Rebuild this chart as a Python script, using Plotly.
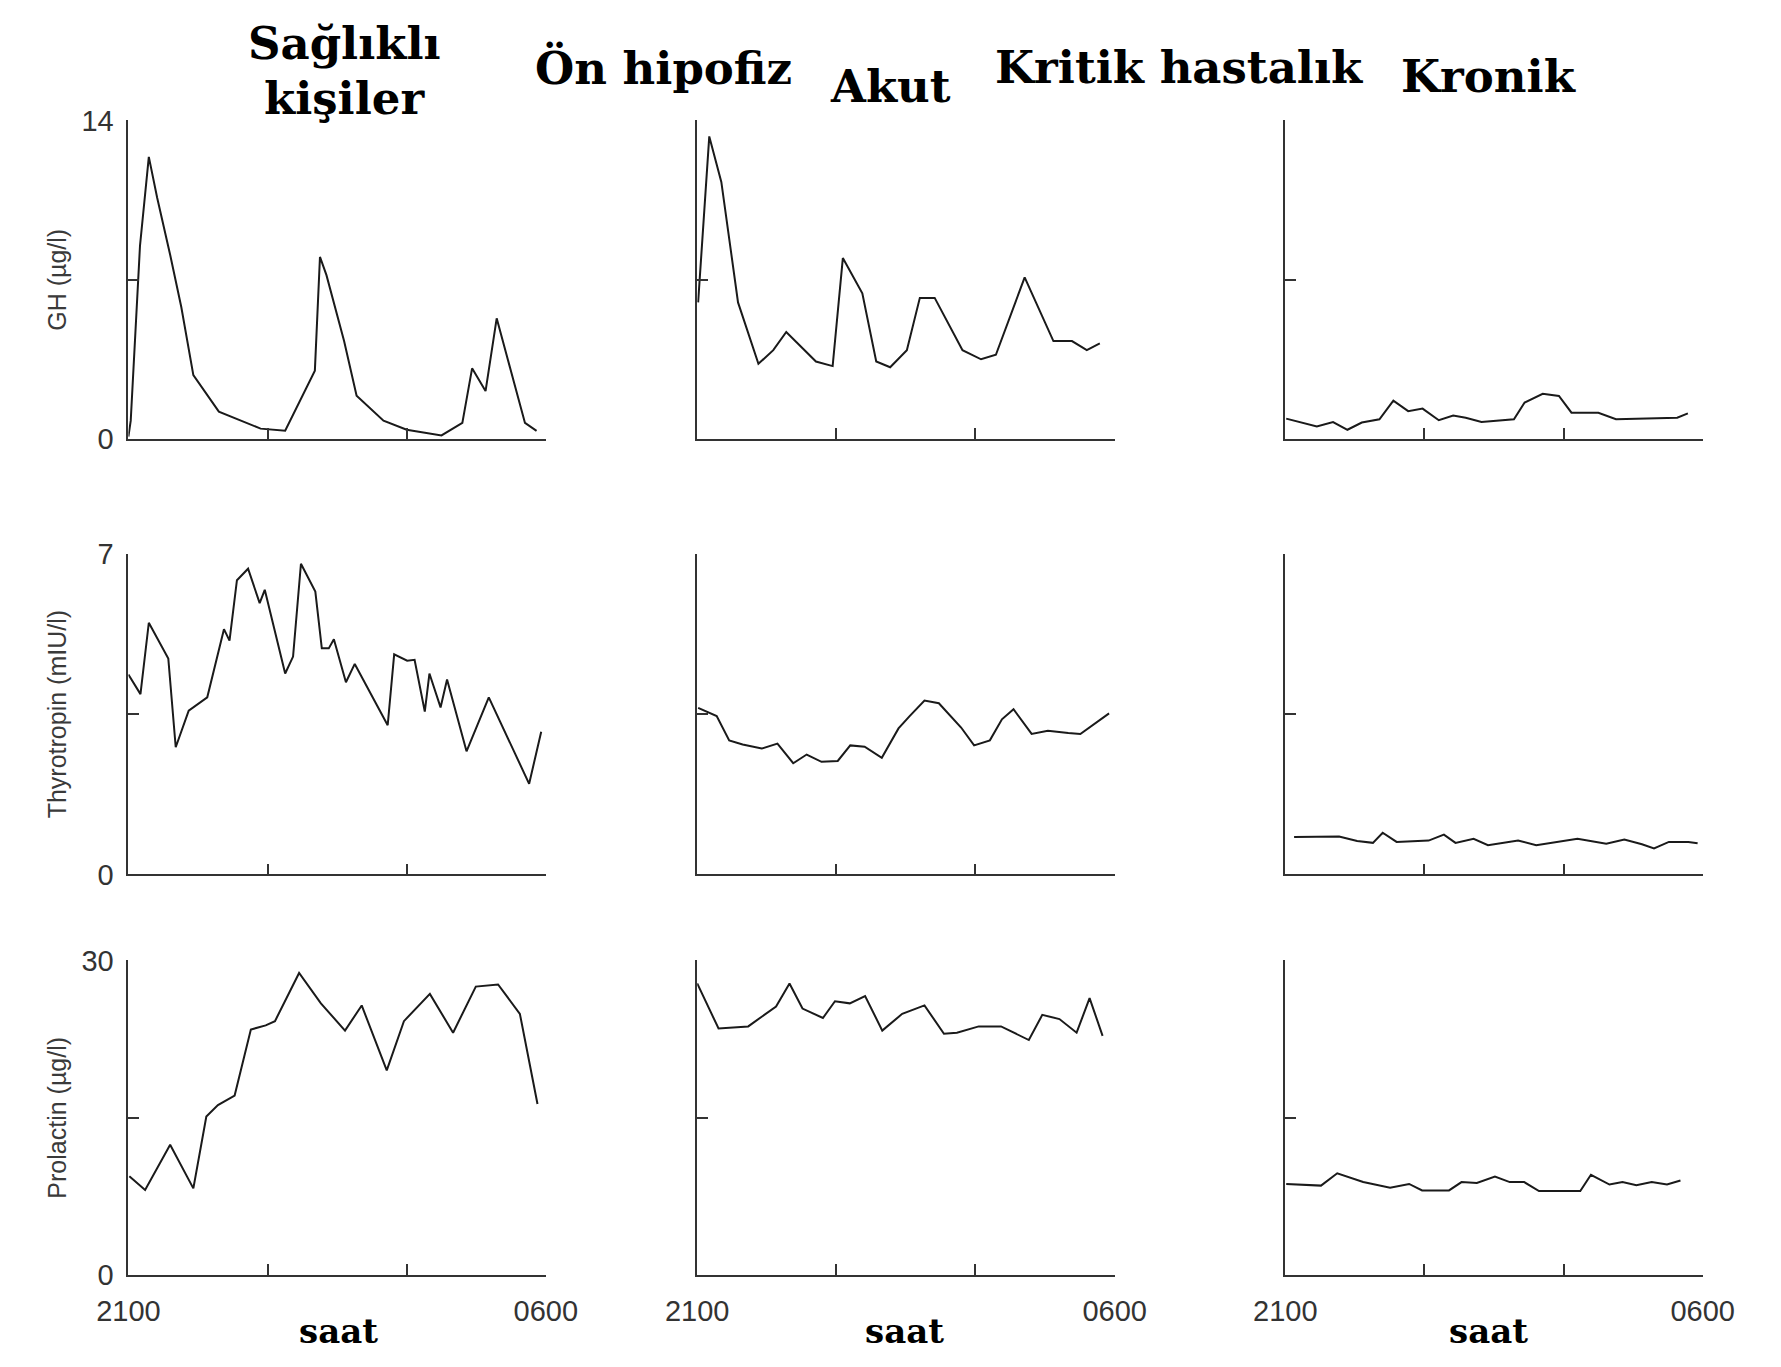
import plotly.graph_objects as go

# ---------------- data (hours after 21:00, 0..9) ----------------
x_tick_vals = [0, 3, 6, 9]
x_tick_text = ["2100", "", "", "0600"]

gh_healthy_t = [0, 0.05, 0.25, 0.44, 0.62, 0.9, 1.14, 1.4, 1.95, 2.85, 3.38, 4.02, 4.13, 4.27, 4.65, 4.92, 5.5, 6.0, 6.75, 7.2, 7.41, 7.7, 7.94, 8.55, 8.8]
gh_healthy_v = [0.1, 0.8, 8.5, 12.4, 10.6, 8.1, 5.8, 2.8, 1.2, 0.45, 0.36, 3.0, 8.0, 7.2, 4.3, 1.9, 0.8, 0.4, 0.15, 0.7, 3.1, 2.1, 5.3, 0.7, 0.35]

gh_acute_t = [0.02, 0.26, 0.52, 0.88, 1.32, 1.64, 1.92, 2.56, 2.92, 3.14, 3.56, 3.86, 4.16, 4.52, 4.8, 5.12, 5.72, 6.12, 6.44, 7.06, 7.68, 8.08, 8.4, 8.68]
gh_acute_v = [6.0, 13.3, 11.3, 6.0, 3.3, 3.9, 4.7, 3.4, 3.2, 7.95, 6.4, 3.4, 3.15, 3.9, 6.2, 6.2, 3.9, 3.5, 3.7, 7.1, 4.3, 4.3, 3.9, 4.2]

gh_chronic_t = [0.02, 0.68, 1.03, 1.34, 1.65, 2.03, 2.33, 2.65, 2.96, 3.31, 3.62, 3.89, 4.23, 4.93, 5.16, 5.55, 5.9, 6.17, 6.75, 7.13, 8.45, 8.68]
gh_chronic_v = [0.89, 0.54, 0.74, 0.4, 0.72, 0.86, 1.68, 1.22, 1.33, 0.82, 1.03, 0.93, 0.74, 0.86, 1.6, 1.98, 1.89, 1.15, 1.15, 0.86, 0.93, 1.12]

tsh_healthy_t = [0, 0.26, 0.44, 0.86, 1.02, 1.3, 1.7, 2.06, 2.18, 2.34, 2.58, 2.83, 2.94, 3.38, 3.55, 3.72, 4.03, 4.17, 4.32, 4.43, 4.69, 4.88, 5.59, 5.73, 6.01, 6.17, 6.39, 6.49, 6.73, 6.87, 7.29, 7.77, 8.64, 8.9]
tsh_healthy_v = [4.37, 3.94, 5.5, 4.72, 2.78, 3.58, 3.87, 5.36, 5.11, 6.43, 6.68, 5.93, 6.22, 4.39, 4.76, 6.79, 6.18, 4.94, 4.94, 5.14, 4.2, 4.6, 3.26, 4.81, 4.67, 4.69, 3.56, 4.39, 3.65, 4.26, 2.69, 3.87, 1.98, 3.12]

tsh_acute_t = [0.02, 0.21, 0.42, 0.69, 0.98, 1.39, 1.73, 2.07, 2.36, 2.68, 3.03, 3.3, 3.61, 3.98, 4.34, 4.58, 4.9, 5.21, 5.69, 5.97, 6.31, 6.57, 6.82, 7.21, 7.56, 8.0, 8.26, 8.88]
tsh_acute_v = [3.64, 3.55, 3.46, 2.93, 2.84, 2.75, 2.86, 2.43, 2.62, 2.46, 2.48, 2.82, 2.79, 2.55, 3.19, 3.46, 3.8, 3.74, 3.21, 2.82, 2.93, 3.39, 3.61, 3.07, 3.14, 3.09, 3.07, 3.52]

tsh_chronic_t = [0.19, 1.16, 1.55, 1.89, 2.1, 2.4, 3.09, 3.42, 3.67, 4.06, 4.37, 5.02, 5.41, 5.95, 6.3, 6.92, 7.31, 7.69, 7.95, 8.27, 8.69, 8.89]
tsh_chronic_v = [0.82, 0.83, 0.73, 0.69, 0.91, 0.71, 0.74, 0.87, 0.69, 0.78, 0.64, 0.74, 0.64, 0.73, 0.78, 0.67, 0.76, 0.66, 0.57, 0.71, 0.71, 0.68]

prl_healthy_t = [0.02, 0.36, 0.9, 1.4, 1.68, 1.93, 2.29, 2.64, 2.96, 3.16, 3.68, 4.15, 4.67, 5.03, 5.57, 5.94, 6.5, 7.0, 7.49, 7.97, 8.44, 8.82]
prl_healthy_v = [9.4, 8.1, 12.4, 8.25, 15.1, 16.2, 17.1, 23.4, 23.8, 24.2, 28.8, 25.9, 23.3, 25.7, 19.5, 24.2, 26.8, 23.1, 27.5, 27.7, 24.9, 16.3]

prl_acute_t = [0.0, 0.46, 1.1, 1.7, 1.99, 2.27, 2.71, 2.97, 3.29, 3.62, 3.99, 4.42, 4.9, 5.32, 5.6, 6.07, 6.55, 7.15, 7.44, 7.81, 8.18, 8.46, 8.74]
prl_acute_v = [27.8, 23.5, 23.7, 25.6, 27.8, 25.4, 24.5, 26.1, 25.9, 26.6, 23.3, 24.9, 25.7, 23.0, 23.1, 23.7, 23.7, 22.4, 24.8, 24.4, 23.1, 26.4, 22.8]

prl_chronic_t = [0.02, 0.77, 1.12, 1.68, 2.26, 2.67, 2.95, 3.53, 3.8, 4.13, 4.52, 4.84, 5.15, 5.47, 6.36, 6.59, 6.99, 7.27, 7.57, 7.9, 8.23, 8.52]
prl_chronic_v = [8.67, 8.51, 9.69, 8.85, 8.3, 8.67, 8.05, 8.05, 8.85, 8.76, 9.38, 8.85, 8.85, 7.99, 7.99, 9.54, 8.61, 8.85, 8.55, 8.85, 8.61, 9.0]

y_max = [14, 7, 30]
y_top_labels = ["14", "7", "30"]
y_titles = ["GH (µg/l)", "Thyrotropin (mIU/l)", "Prolactin (µg/l)"]

series = [
    [(gh_healthy_t, gh_healthy_v), (gh_acute_t, gh_acute_v), (gh_chronic_t, gh_chronic_v)],
    [(tsh_healthy_t, tsh_healthy_v), (tsh_acute_t, tsh_acute_v), (tsh_chronic_t, tsh_chronic_v)],
    [(prl_healthy_t, prl_healthy_v), (prl_acute_t, prl_acute_v), (prl_chronic_t, prl_chronic_v)],
]

# ---------------- layout geometry ----------------
W, H = 1781, 1367
col_px = [(100, 533), (690, 1123), (1300, 1733)]
row_px = [(107, 433), (551, 879), (967, 1289)]

fig = go.Figure()
AX_COLOR = "#333333"
LINE_COLOR = "#1a1a1a"
tick_font = dict(family="Liberation Sans, Arial, sans-serif", size=29, color="#333333")

idx = 0
for r in range(3):
    for c in range(3):
        idx += 1
        t, v = series[r][c]
        fig.add_trace(go.Scatter(
            x=t, y=v, mode="lines",
            line=dict(color=LINE_COLOR, width=2),
            xaxis=f"x{idx}", yaxis=f"y{idx}",
            showlegend=False, hoverinfo="skip",
        ))
        x0, x1 = col_px[c]
        top, bot = row_px[r]
        xa = dict(
            domain=[x0 / W, x1 / W], range=[0, 9], anchor=f"y{idx}",
            showline=True, linecolor=AX_COLOR, linewidth=1.8, mirror=False,
            showgrid=False, zeroline=False,
            ticks="inside", ticklen=11, tickwidth=1.8, tickcolor=AX_COLOR,
            tickvals=x_tick_vals,
            ticktext=x_tick_text if r == 2 else ["", "", "", ""],
            tickfont=tick_font, ticklabelstandoff=9,
        )
        ya = dict(
            domain=[1 - bot / H, 1 - top / H], range=[0, y_max[r]], anchor=f"x{idx}",
            showline=True, linecolor=AX_COLOR, linewidth=1.8, mirror=False,
            showgrid=False, zeroline=False,
            ticks="inside", ticklen=11, tickwidth=1.8, tickcolor=AX_COLOR,
            tickvals=[0, y_max[r] / 2, y_max[r]],
            ticktext=["0", "", y_top_labels[r]] if c == 0 else ["", "", ""],
            tickfont=tick_font, ticklabelstandoff=7,
        )
        fig.layout[f"xaxis{idx if idx > 1 else ''}"] = xa
        fig.layout[f"yaxis{idx if idx > 1 else ''}"] = ya

annotations = []
title_font = dict(family="DejaVu Serif, serif", size=45, color="#000000")


def add_text(text, x, y, font, angle=0):
    annotations.append(dict(
        text=text, x=x / W, y=1 - y / H, xref="paper", yref="paper",
        xanchor="center", yanchor="middle", showarrow=False,
        font=font, textangle=angle,
    ))


add_text("<b>Sağlıklı</b>", 324, 28, title_font)
add_text("<b>kişiler</b>", 324, 84, title_font)
add_text("<b>Ön hipofiz</b>", 655, 53, title_font)
add_text("<b>Akut</b>", 890, 72, title_font)
add_text("<b>Kritik hastalık</b>", 1190, 53, title_font)
add_text("<b>Kronik</b>", 1511, 62, title_font)

saat_font = dict(family="DejaVu Serif, serif", size=34, color="#000000")
for cx in [318, 905, 1511]:
    add_text("<b>saat</b>", cx, 1347, saat_font)

ytitle_font = dict(family="Liberation Sans, Arial, sans-serif", size=25, color="#3a3a3a")
for (top, bot), ttl in zip(row_px, y_titles):
    add_text(ttl, 26, (top + bot) / 2, ytitle_font, angle=-90)

fig.update_layout(
    width=W, height=H,
    margin=dict(l=0, r=0, t=0, b=0),
    paper_bgcolor="white", plot_bgcolor="white",
    annotations=annotations,
)

fig.write_html("out.html")
